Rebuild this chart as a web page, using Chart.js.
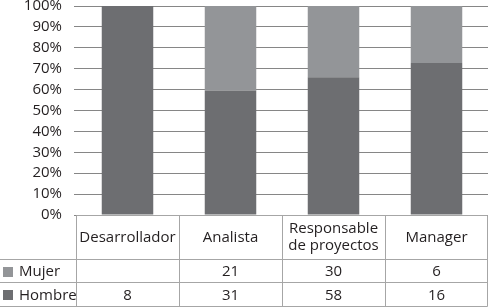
<!DOCTYPE html>
<html>
<head>
<meta charset="utf-8">
<script src="https://cdn.jsdelivr.net/npm/chart.js@4/dist/chart.umd.min.js"></script>
<style>
  html, body { margin: 0; padding: 0; background: #ffffff; }
  #wrap { width: 488px; height: 308px; }
</style>
</head>
<body>
<div id="wrap"><canvas id="c" width="488" height="308"></canvas></div>
<script>
const categories = ['Desarrollador', 'Analista', ['Responsable', 'de proyectos'], 'Manager'];
const seriesNames = ['Hombre', 'Mujer'];
const hombre = [8, 31, 58, 16];
const mujer = [null, 21, 30, 6];
const yTickStep = 10;

const colors = { Hombre: '#6d6e71', Mujer: '#939598' };
const textColor = '#231f20';
const fontFamily = '"Open Sans", sans-serif';
const fontSize = 15;

const totals = hombre.map((h, i) => (h || 0) + (mujer[i] || 0));
const pct = arr => arr.map((v, i) => v == null ? 0 : v / totals[i] * 100);

const tablePlugin = {
  id: 'dataTable',
  afterDraw(chart) {
    const ctx = chart.ctx;
    const ca = chart.chartArea;
    const x = chart.scales.x;
    const n = categories.length;
    const colW = (ca.right - ca.left) / n;
    const top = ca.bottom + 0.5;
    const hdrBot = top + 44;
    const r1Bot = hdrBot + 23;
    const r2Bot = r1Bot + 24;
    const right = ca.right - 0.5;
    ctx.save();
    ctx.strokeStyle = '#a6a6a6';
    ctx.lineWidth = 1;
    ctx.beginPath();
    ctx.moveTo(Math.round(ca.left) + 0.5, top); ctx.lineTo(right, top);
    [hdrBot, r1Bot, r2Bot].forEach(y => { ctx.moveTo(0, y); ctx.lineTo(right, y); });
    for (let i = 0; i <= n; i++) {
      let xx = i === n ? right : Math.round(ca.left + i * colW) + 0.5;
      ctx.moveTo(xx, top); ctx.lineTo(xx, r2Bot);
    }
    ctx.stroke();

    ctx.fillStyle = textColor;
    ctx.font = fontSize + 'px ' + fontFamily;
    ctx.textAlign = 'center';
    ctx.textBaseline = 'middle';
    const lh = 17;
    categories.forEach((c, i) => {
      const cx = x.getPixelForValue(i);
      const lines = Array.isArray(c) ? c : [c];
      const mid = (top + hdrBot) / 2;
      lines.forEach((l, k) => {
        ctx.fillText(l, cx, mid + (k - (lines.length - 1) / 2) * lh);
      });
    });
    const rows = [
      { name: 'Mujer', data: mujer, y0: hdrBot, y1: r1Bot },
      { name: 'Hombre', data: hombre, y0: r1Bot, y1: r2Bot }
    ];
    rows.forEach(r => {
      const my = (r.y0 + r.y1) / 2;
      ctx.textAlign = 'center';
      ctx.fillStyle = textColor;
      r.data.forEach((v, i) => {
        if (v != null) ctx.fillText(String(v), x.getPixelForValue(i), my + 1);
      });
      ctx.fillStyle = colors[r.name];
      ctx.fillRect(3, Math.round(my - 4.5), 10, 10);
      ctx.fillStyle = textColor;
      ctx.textAlign = 'left';
      ctx.fillText(r.name, 19, my + 1);
    });
    ctx.restore();
  }
};

new Chart(document.getElementById('c'), {
  type: 'bar',
  data: {
    labels: categories,
    datasets: [
      { label: 'Hombre', data: pct(hombre), backgroundColor: colors.Hombre, categoryPercentage: 1, barPercentage: 0.5 },
      { label: 'Mujer', data: pct(mujer), backgroundColor: colors.Mujer, categoryPercentage: 1, barPercentage: 0.5 }
    ]
  },
  options: {
    responsive: false,
    animation: false,
    layout: { padding: { top: 6, bottom: 93, left: 0, right: 0 } },
    plugins: { legend: { display: false }, tooltip: { enabled: false } },
    scales: {
      x: { stacked: true, display: false },
      y: {
        stacked: true,
        min: 0, max: 100,
        ticks: {
          stepSize: yTickStep,
          autoSkip: false,
          callback: v => v + '%',
          color: textColor,
          font: { family: fontFamily, size: fontSize },
          padding: 12
        },
        grid: { color: '#868686', lineWidth: 1, tickLength: 2, drawTicks: true },
        border: { display: false },
        afterFit: s => { s.width = 76; s.paddingTop = 0; s.paddingBottom = 0; }
      }
    }
  },
  plugins: [tablePlugin]
});
</script>
</body>
</html>
